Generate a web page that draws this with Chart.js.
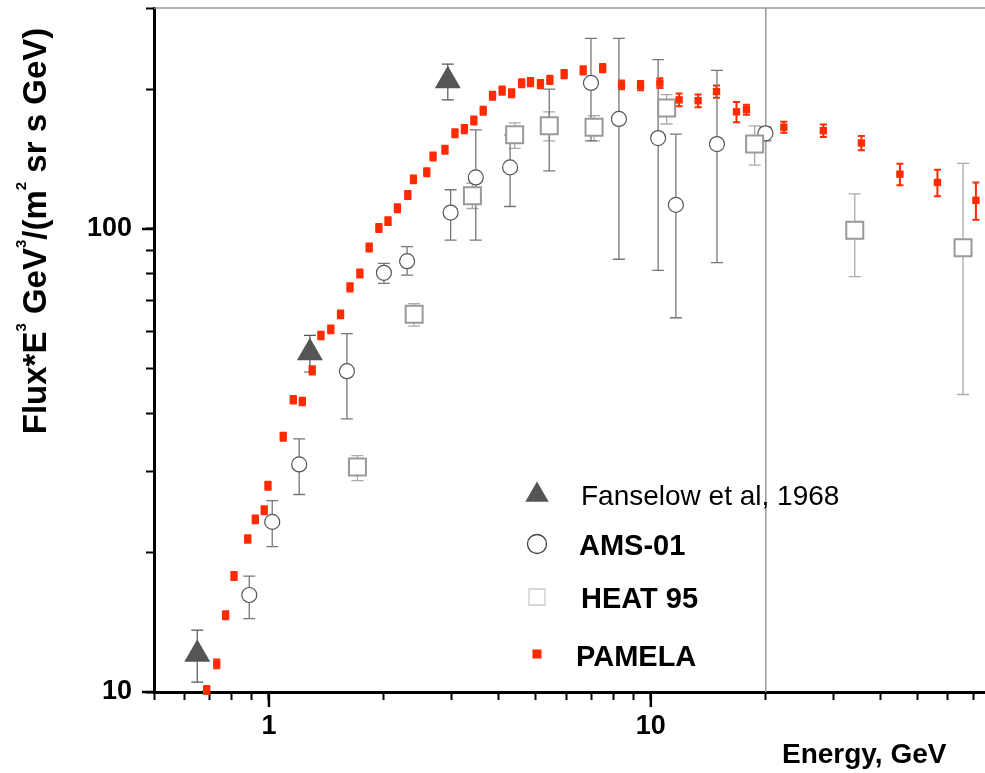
<!DOCTYPE html>
<html>
<head>
<meta charset="utf-8">
<script src="https://cdn.jsdelivr.net/npm/chart.js@4.4.1/dist/chart.umd.min.js"></script>
<style>
  body { margin: 0; background: #fff; }
  #wrap { width: 985px; height: 773px; }
</style>
</head>
<body>
<div id="wrap"><canvas id="myChart" width="985" height="773"></canvas></div>
<script>
// valores (E em GeV, fluxo*E^3)
const pamelaE = [0.687, 0.730, 0.770, 0.810, 0.880, 0.921, 0.972, 0.994, 1.09, 1.158, 1.223, 1.298, 1.368, 1.452,
    1.54, 1.63, 1.73, 1.83, 1.94, 2.05, 2.17, 2.31, 2.39, 2.59, 2.69, 2.89, 3.07, 3.25, 3.44, 3.64, 3.85, 4.08,
    4.32, 4.59, 4.84, 5.14, 5.44, 5.93, 6.65, 7.48, 8.38, 9.4, 10.56, 11.86, 13.3, 14.86, 16.76, 17.8, 22.3,
    28.3, 35.6, 44.9, 56.3, 71.0];
const pamelaF = [10.1, 11.5, 14.65, 17.8, 21.4, 23.6, 24.7, 27.9, 35.6, 42.8, 42.4, 49.5, 58.9, 60.7,
    65.4, 74.8, 80.1, 91.2, 100.5, 104, 110.9, 118.4, 128, 132.6, 143.4, 148.3, 161, 164.3, 171.5, 180, 194, 199,
    196.4, 206.5, 207.5, 205.6, 209.8, 216, 220, 222.5, 204.7, 204, 206.5, 190, 189.2, 198, 179, 181, 165.8,
    163, 153.3, 131.3, 126, 115.3];
const pamelaErr = [0.2, 0.25, 0.3, 0.35, 0.4, 0.45, 0.5, 0.55, 0.7, 0.8, 0.8, 1.0, 1.1, 1.2,
    1.3, 1.5, 1.6, 1.8, 2, 2, 2.2, 2.4, 2.5, 2.6, 2.8, 3, 3.2, 3.3, 3.4, 3.6, 3.8, 4,
    4, 4.1, 4.2, 4.2, 4.3, 4.4, 4.5, 4.6, 4.5, 4.6, 5, 6, 6, 6, 9, 4.5, 4.5,
    5, 5.5, 7, 8.3, 10.6];

const amsE = [0.888, 1.02, 1.20, 1.60, 2.00, 2.30, 2.99, 3.48, 4.28, 5.42, 6.97, 8.25, 10.45, 11.63, 14.9, 19.96];
const amsF = [16.2, 23.3, 31.0, 49.3, 80.4, 85.2, 108.5, 129.2, 135.8, 167, 206.7, 172.8, 157.1, 112.7, 152.5, 160.9];
const amsHi = [17.8, 25.9, 35.2, 59.4, 84.3, 91.6, 121.5, 163.6, 159.6, 200.4, 258, 258, 232, 160.3, 220, 166];
const amsLo = [14.4, 20.6, 26.7, 38.9, 76.3, 79.5, 94.6, 94.6, 111.8, 133.5, 155, 86, 81.4, 64.3, 84.6, 155];

const heatE = [1.705, 2.40, 3.41, 4.40, 5.42, 7.10, 11.0, 18.7, 34.2, 65.7];
const heatF = [30.6, 65.4, 117.9, 159.8, 167, 165.8, 182.5, 152.5, 99.4, 91.1];
const heatHi = [32.4, 69, 125.5, 169.5, 179, 175.7, 195, 167, 119, 138.5];
const heatLo = [28.6, 61.7, 110.7, 149.3, 155, 155, 168.5, 137.4, 78.9, 43.9];

const fanE = [0.649, 1.28, 2.94];
const fanF = [12.07, 54.0, 209];
const fanHi = [13.6, 58.9, 227];
const fanLo = [10.5, 49.1, 190];

const xTicks = [0.5, 0.6, 0.7, 0.8, 0.9, 1, 2, 3, 4, 5, 6, 7, 8, 9, 10, 20, 30, 40, 50, 60, 70];
const yTicks = [10, 20, 30, 40, 50, 60, 70, 80, 90, 100, 200, 300];
const xLabels = [1, 10];
const yLabels = [10, 100];

const fonte = '"Liberation Sans", Arial, Helvetica, sans-serif';
const vermelho = "#ff2a00";

function pontos(xs, ys) {
    return xs.map((x, i) => ({ x: x, y: ys[i] }));
}

function semPadding(s) {
    s.paddingTop = 0;
    s.paddingBottom = 0;
    s.paddingLeft = 0;
    s.paddingRight = 0;
}

// barras de erro, grade em E=20 e linha de cima
const moldura = {
    id: "moldura",
    beforeDatasetsDraw(chart) {
        const { ctx, chartArea, scales } = chart;
        ctx.save();
        ctx.strokeStyle = "#999";
        ctx.lineWidth = 1.5;
        ctx.beginPath();
        ctx.moveTo(chartArea.left, chartArea.top);
        ctx.lineTo(chartArea.right, chartArea.top);
        let x20 = scales.x.getPixelForValue(20);
        ctx.moveTo(x20, chartArea.top);
        ctx.lineTo(x20, chartArea.bottom);
        ctx.stroke();

        chart.data.datasets.forEach((ds) => {
            if (!ds.errHi) return;
            ctx.strokeStyle = ds.corErro;
            ctx.lineWidth = ds.larguraErro;
            ds.data.forEach((p, i) => {
                let px = scales.x.getPixelForValue(p.x);
                let top = scales.y.getPixelForValue(ds.errHi[i]);
                let bot = scales.y.getPixelForValue(ds.errLo[i]);
                let c = ds.capa;
                ctx.beginPath();
                ctx.moveTo(px, top);
                ctx.lineTo(px, bot);
                ctx.moveTo(px - c, top);
                ctx.lineTo(px + c, top);
                ctx.moveTo(px - c, bot);
                ctx.lineTo(px + c, bot);
                ctx.stroke();
            });
        });
        ctx.restore();
    },
    afterDraw(chart) {
        const { ctx, chartArea, scales } = chart;
        ctx.save();
        // ticks maiores
        ctx.strokeStyle = "#000";
        ctx.lineWidth = 2.5;
        ctx.beginPath();
        xLabels.forEach((v) => {
            let px = scales.x.getPixelForValue(v);
            ctx.moveTo(px, chartArea.bottom);
            ctx.lineTo(px, chartArea.bottom + 15);
        });
        yLabels.forEach((v) => {
            let py = scales.y.getPixelForValue(v);
            ctx.moveTo(chartArea.left, py);
            ctx.lineTo(chartArea.left - 12, py);
        });
        ctx.stroke();

        // titulo do eixo y com expoentes
        ctx.fillStyle = "#000";
        ctx.translate(46, 231);
        ctx.rotate(-Math.PI / 2);
        textoRico(ctx, [
            ["Flux*E", 0], ["3", 1], [" GeV", 0], ["3", 1], ["/(m", 0], ["2", 1], [" sr s GeV)", 0],
        ], 33);
        ctx.setTransform(1, 0, 0, 1, 0, 0);

        ctx.textAlign = "left";
        ctx.textBaseline = "alphabetic";
        ctx.font = "bold 28px " + fonte;
        ctx.fillText("Energy, GeV", 782, 763);

        // legenda
        const itens = [
            { t: "Fanselow et al, 1968", peso: "normal", estilo: "triangle", r: 13.5, fundo: "#555", borda: "#555", bw: 0, y: 495, tx: 581, ty: 505 },
            { t: "AMS-01", peso: "bold", estilo: "circle", r: 9.5, fundo: "#fff", borda: "#444", bw: 1.3, y: 544, tx: 579, ty: 555 },
            { t: "HEAT 95", peso: "bold", estilo: "rect", r: 11.3, fundo: "#fff", borda: "#ccc", bw: 1.3, y: 597, tx: 581, ty: 608 },
            { t: "PAMELA", peso: "bold", estilo: "rect", r: 6.4, fundo: vermelho, borda: vermelho, bw: 0, y: 654, tx: 576, ty: 666 },
        ];
        itens.forEach((it) => {
            ctx.fillStyle = it.fundo;
            ctx.strokeStyle = it.borda;
            ctx.lineWidth = it.bw;
            Chart.helpers.drawPoint(ctx, { pointStyle: it.estilo, radius: it.r, rotation: 0, borderWidth: it.bw }, 537, it.y);
            ctx.fillStyle = "#000";
            ctx.font = (it.peso === "bold" ? "bold 29px " : "28px ") + fonte;
            ctx.fillText(it.t, it.tx, it.ty);
        });
        ctx.restore();
    },
};

function textoRico(ctx, partes, tam) {
    let total = 0;
    partes.forEach(([t, sup]) => {
        ctx.font = "bold " + (sup ? Math.round(tam * 0.45) : tam) + "px " + fonte;
        total += ctx.measureText(t).width;
    });
    let cx = -total / 2;
    ctx.textAlign = "left";
    ctx.textBaseline = "alphabetic";
    partes.forEach(([t, sup]) => {
        ctx.font = "bold " + (sup ? Math.round(tam * 0.45) : tam) + "px " + fonte;
        ctx.fillText(t, cx, sup ? -tam * 0.6 : 0);
        cx += ctx.measureText(t).width;
    });
}

let ctx = document.getElementById("myChart").getContext("2d");

let myChart = new Chart(ctx, {
    type: "scatter",
    data: {
        datasets: [
            {
                label: "PAMELA",
                data: pontos(pamelaE, pamelaF),
                errHi: pamelaF.map((f, i) => f + pamelaErr[i]),
                errLo: pamelaF.map((f, i) => f - pamelaErr[i]),
                corErro: vermelho,
                larguraErro: 2,
                capa: 3.5,
                pointStyle: "rect",
                pointRadius: 5.2,
                pointHoverRadius: 5.2,
                backgroundColor: vermelho,
                borderColor: vermelho,
                borderWidth: 0,
                clip: false,
                order: 0,
            },
            {
                label: "Fanselow et al, 1968",
                data: pontos(fanE, fanF),
                errHi: fanHi,
                errLo: fanLo,
                corErro: "#555",
                larguraErro: 1.2,
                capa: 6,
                pointStyle: "triangle",
                pointRadius: 15,
                pointHoverRadius: 15,
                backgroundColor: "#555",
                borderColor: "#555",
                borderWidth: 0,
                order: 1,
            },
            {
                label: "HEAT 95",
                data: pontos(heatE, heatF),
                errHi: heatHi,
                errLo: heatLo,
                corErro: "#aaa",
                larguraErro: 1.3,
                capa: 6,
                pointStyle: "rect",
                pointRadius: 12,
                pointHoverRadius: 12,
                backgroundColor: "#fff",
                borderColor: "#999",
                borderWidth: 2,
                order: 2,
            },
            {
                label: "AMS-01",
                data: pontos(amsE, amsF),
                errHi: amsHi,
                errLo: amsLo,
                corErro: "#777",
                larguraErro: 1.3,
                capa: 6,
                pointStyle: "circle",
                pointRadius: 7.5,
                pointHoverRadius: 7.5,
                backgroundColor: "#fff",
                borderColor: "#555",
                borderWidth: 1.2,
                order: 3,
            },
        ],
    },
    options: {
        responsive: false,
        animation: false,
        layout: {
            autoPadding: false,
            padding: { top: 8, left: 0, right: 0, bottom: 0 },
        },
        plugins: {
            legend: { display: false },
            tooltip: { enabled: false },
        },
        scales: {
            x: {
                type: "logarithmic",
                position: "bottom",
                min: 0.5,
                max: 75,
                afterBuildTicks: (s) => {
                    s.ticks = xTicks.map((v) => ({ value: v }));
                },
                afterFit: (s) => {
                    s.height = 81;
                    semPadding(s);
                },
                border: { display: true, color: "#000", width: 3 },
                grid: {
                    drawOnChartArea: false,
                    drawTicks: true,
                    tickLength: 8,
                    tickWidth: 2,
                    tickColor: "#000",
                },
                ticks: {
                    autoSkip: false,
                    maxRotation: 0,
                    padding: 10,
                    color: "#000",
                    font: { family: fonte, size: 27, weight: "bold" },
                    callback: (v) => (xLabels.includes(v) ? String(v) : ""),
                },
            },
            y: {
                type: "logarithmic",
                position: "left",
                min: 10,
                max: 300,
                afterBuildTicks: (s) => {
                    s.ticks = yTicks.map((v) => ({ value: v }));
                },
                afterFit: (s) => {
                    s.width = 154;
                    semPadding(s);
                },
                border: { display: true, color: "#000", width: 3 },
                grid: {
                    drawOnChartArea: false,
                    drawTicks: true,
                    tickLength: 8,
                    tickWidth: 2,
                    tickColor: "#000",
                },
                ticks: {
                    autoSkip: false,
                    padding: 14,
                    color: "#000",
                    font: { family: fonte, size: 27, weight: "bold" },
                    callback: (v) => (yLabels.includes(v) ? String(v) : ""),
                },
            },
        },
    },
    plugins: [moldura],
});
</script>
</body>
</html>
